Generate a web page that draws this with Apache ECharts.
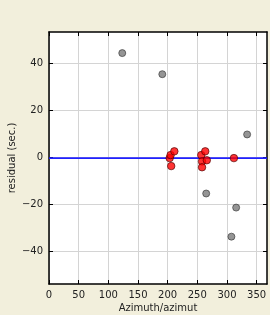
<!DOCTYPE html>
<html><head><meta charset="utf-8">
<script src="https://cdn.jsdelivr.net/npm/echarts@6/dist/echarts.min.js"></script>
<style>html,body{margin:0;padding:0;background:#f2efdc;}#c{width:270px;height:315px;}</style>
</head><body><div id="c"></div>
<script>
const grayX = [123.5, 191, 334, 265, 315.5, 307.5];
const grayY = [44.5, 35.5, 9.8, -15.4, -21.4, -33.8];
const redX = [203.4, 205, 211.3, 206, 256.7, 263.4, 258, 266, 258, 311.7];
const redY = [-0.3, 1, 2.6, -3.7, 1, 2.6, -1.7, -1.2, -4.2, -0.3];
const lineY = -0.3;
const xTicks = [0, 50, 100, 150, 200, 250, 300, 350];
const yTicks = [-40, -20, 0, 20, 40];
const xLabel = 'Azimuth/azimut';
const yLabel = 'residual (sec.)';

const font = 'DejaVu Sans';
const chart = echarts.init(document.getElementById('c'), null, {renderer:'canvas'});
const xMin = 0, xMax = 367.5, yMin = -54, yMax = 53.5;
const baseAxis = {
  axisLine:{show:true,onZero:false,lineStyle:{color:'#000',width:1.5}},
  splitLine:{show:false}
};
chart.setOption({
  backgroundColor:'#f2efdc',
  animation:false,
  grid:{left:49,right:3,top:32,bottom:31,show:true,backgroundColor:'#fff',borderWidth:0,containLabel:false,outerBoundsMode:'none'},
  xAxis:[
    Object.assign({}, baseAxis, {type:'value',min:xMin,max:xMax,position:'bottom',
      axisTick:{show:true,inside:true,length:4,customValues:xTicks,lineStyle:{color:'#000'}},
      axisLabel:{customValues:xTicks,color:'#222',fontFamily:font,fontSize:10,margin:6},
      splitLine:{show:true,lineStyle:{color:'#d4d4d4',width:1}},
      name:xLabel,nameLocation:'middle',nameGap:19,nameMoveOverlap:false,nameTextStyle:{color:'#222',fontFamily:font,fontSize:10}}),
    Object.assign({}, baseAxis, {type:'value',min:xMin,max:xMax,position:'top',
      axisTick:{show:true,inside:true,length:4,customValues:xTicks,lineStyle:{color:'#000'}},
      axisLabel:{show:false}})
  ],
  yAxis:[
    Object.assign({}, baseAxis, {type:'value',min:yMin,max:yMax,position:'left',
      axisTick:{show:true,inside:true,length:4,customValues:yTicks,lineStyle:{color:'#000'}},
      axisLabel:{customValues:yTicks,color:'#222',fontFamily:font,fontSize:10,margin:6,
        formatter:v=>v<0?'\u2212'+Math.abs(v):String(v)},
      splitLine:{show:true,lineStyle:{color:'#d4d4d4',width:1}},
      name:yLabel,nameLocation:'middle',nameGap:32,nameMoveOverlap:false,nameRotate:90,nameTextStyle:{color:'#222',fontFamily:font,fontSize:10}}),
    Object.assign({}, baseAxis, {type:'value',min:yMin,max:yMax,position:'right',
      axisTick:{show:true,inside:true,length:4,customValues:yTicks,lineStyle:{color:'#000'}},
      axisLabel:{show:false}})
  ],
  series:[
    {type:'line',data:[[xMin,lineY],[xMax,lineY]],symbol:'none',lineStyle:{color:'#2020ff',width:1.6},z:2,silent:true},
    {type:'scatter',data:grayX.map((x,i)=>[x,grayY[i]]),symbolSize:7,
      itemStyle:{color:'#7a7a7a',borderColor:'#333',borderWidth:0.8},z:3},
    {type:'scatter',data:redX.map((x,i)=>[x,redY[i]]),symbolSize:7.5,
      itemStyle:{color:'#ff0000',borderColor:'#400',borderWidth:0.8},z:4}
  ]
});
</script></body></html>
